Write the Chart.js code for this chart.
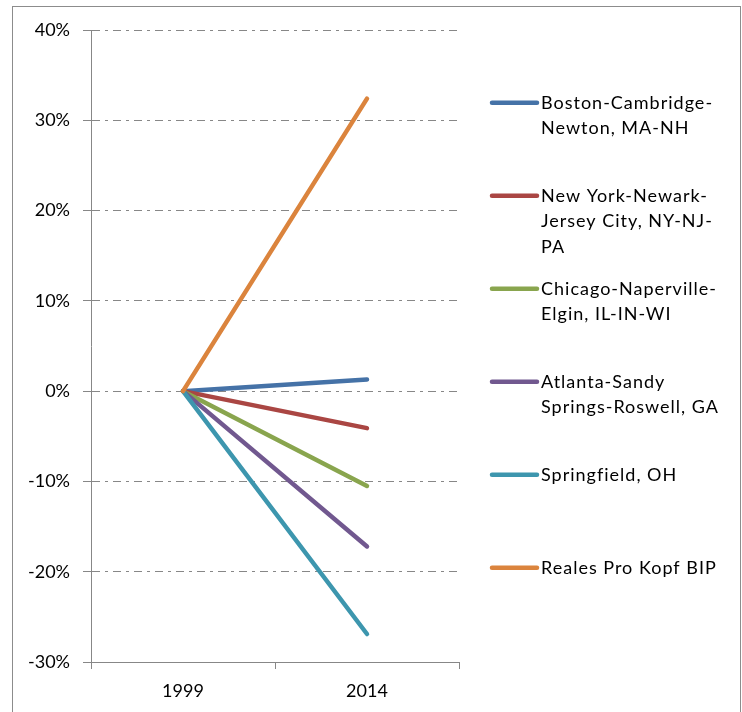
<!DOCTYPE html>
<html>
<head>
<meta charset="utf-8">
<script src="https://cdn.jsdelivr.net/npm/chart.js@4/dist/chart.umd.min.js"></script>
<style>
    html, body { margin: 0; padding: 0; background: #fff; }
    canvas { display: block; }
</style>
</head>
<body>
<canvas id="chart" width="742" height="712"></canvas>
<script>
// dati (valori in %)
const years = ['1999', '2014'];
const boston = [0, 1.3];
const newYork = [0, -4.1];
const chicago = [0, -10.5];
const atlanta = [0, -17.2];
const springfield = [0, -26.9];
const reales = [0, 32.4];

const seriesLabels = [
    ['Boston-Cambridge-', 'Newton, MA-NH'],
    ['New York-Newark-', 'Jersey City, NY-NJ-', 'PA'],
    ['Chicago-Naperville-', 'Elgin, IL-IN-WI'],
    ['Atlanta-Sandy', 'Springs-Roswell, GA'],
    ['Springfield, OH'],
    ['Reales Pro Kopf BIP']
];
const seriesData = [boston, newYork, chicago, atlanta, springfield, reales];
const seriesColors = ['#4572A7', '#AA4643', '#89A54E', '#71588F', '#3D96AE', '#DB843D'];

const yTicks = [-30, -20, -10, 0, 10, 20, 30, 40];

const FONT = 'Lato, "Open Sans", sans-serif';
const AXIS_GREY = '#878787';

// cornice esterna + sfondo
const framePlugin = {
    id: 'frame',
    beforeDraw(chart) {
        const ctx = chart.ctx;
        ctx.save();
        ctx.fillStyle = '#fff';
        ctx.fillRect(0, 0, chart.width, chart.height);
        ctx.strokeStyle = '#8c8c8c';
        ctx.lineWidth = 1;
        ctx.strokeRect(12.5, 6.5, 728, 720);
        ctx.restore();
    }
};

// legenda a destra con etichette su più righe
const sideLegend = {
    id: 'sideLegend',
    afterDraw(chart) {
        const ctx = chart.ctx;
        const x0 = 492, x1 = 537, tx = 541;
        const top = 102.7, gap = 93, lineH = 25.7;
        ctx.save();
        ctx.font = '18px ' + FONT;
        ctx.letterSpacing = '1px';
        ctx.textBaseline = 'middle';
        ctx.textAlign = 'left';
        chart.data.datasets.forEach((ds, i) => {
            const y = top + i * gap;
            ctx.strokeStyle = ds.borderColor;
            ctx.lineWidth = 4.5;
            ctx.lineCap = 'round';
            ctx.beginPath();
            ctx.moveTo(x0, y);
            ctx.lineTo(x1, y);
            ctx.stroke();
            ctx.fillStyle = '#000';
            ds.label.forEach((t, j) => ctx.fillText(t, tx, y + j * lineH));
        });
        ctx.restore();
    }
};

new Chart(document.getElementById('chart'), {
    type: 'line',
    data: {
        labels: years,
        datasets: seriesData.map((d, i) => ({
            label: seriesLabels[i],
            data: d,
            borderColor: seriesColors[i],
            backgroundColor: seriesColors[i],
            borderWidth: 4.5,
            borderCapStyle: 'round',
            borderJoinStyle: 'round',
            pointRadius: 0,
            tension: 0,
            fill: false,
            order: seriesData.length - 1 - i
        }))
    },
    options: {
        responsive: false,
        animation: false,
        devicePixelRatio: 1,
        layout: {
            padding: { left: 0, top: 30, right: 283, bottom: 0 }
        },
        plugins: {
            legend: { display: false },
            tooltip: { enabled: false }
        },
        scales: {
            x: {
                offset: true,
                afterFit: s => { s.height = 50; },
                grid: {
                    offset: true,
                    drawOnChartArea: false,
                    tickLength: 7,
                    color: AXIS_GREY
                },
                border: { color: AXIS_GREY, width: 1 },
                ticks: {
                    padding: 11,
                    color: '#000',
                    font: { family: FONT, size: 18 }
                }
            },
            y: {
                min: -30,
                max: 40,
                afterFit: s => { s.width = 91; },
                afterBuildTicks: s => { s.ticks = yTicks.map(v => ({ value: v })); },
                grid: {
                    color: AXIS_GREY,
                    tickLength: 8
                },
                border: { color: AXIS_GREY, width: 1, dash: [8, 5, 3, 5] },
                ticks: {
                    padding: 13,
                    color: '#000',
                    font: { family: FONT, size: 18 },
                    callback: v => v + '%'
                }
            }
        }
    },
    plugins: [framePlugin, sideLegend]
});
</script>
</body>
</html>
